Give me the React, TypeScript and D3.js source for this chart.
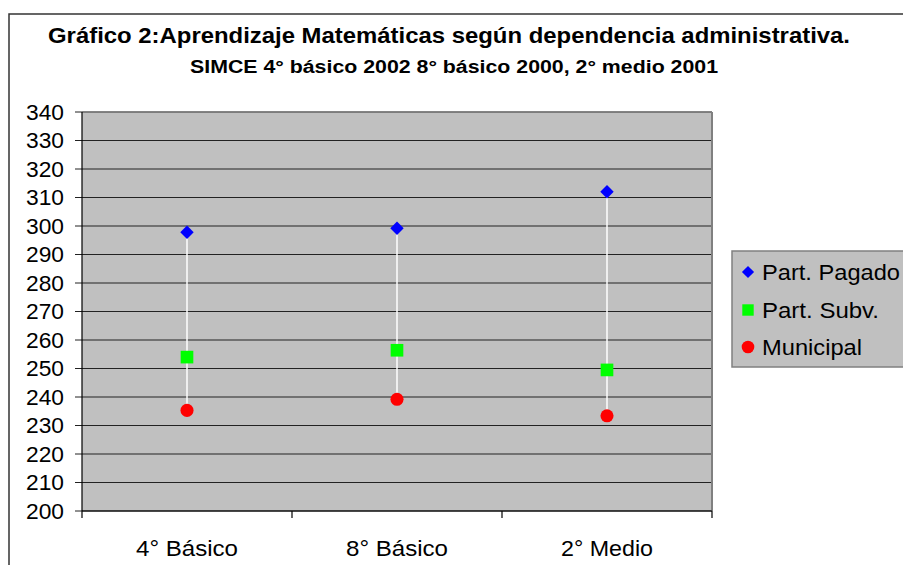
import React from "react";
import * as d3 from "d3";

const categories = ["4° Básico", "8° Básico", "2° Medio"];
const partPagado = [297.8, 299.2, 312];
const partSubv = [254, 256.4, 249.5];
const municipal = [235.3, 239.2, 233.4];
const yTicks = [200, 210, 220, 230, 240, 250, 260, 270, 280, 290, 300, 310, 320, 330, 340];
const seriesNames = ["Part. Pagado", "Part. Subv.", "Municipal"];

const W = 903;
const H = 565;
const plot = { left: 82, top: 112, right: 712, bottom: 511 };
const font = "'Liberation Sans', Arial, sans-serif";
const catWidths = [102, 102, 92];
const legendWidths = [138, 117, 100];

export default function App() {
  const x = d3.scaleBand<string>().domain(categories).range([plot.left, plot.right]);
  const y = d3.scaleLinear().domain([200, 340]).range([plot.bottom, plot.top]);
  const cx = (c: string) => (x(c) as number) + x.bandwidth() / 2;
  const diamond = d3.symbol().type(d3.symbolDiamond2).size(115)() as string;
  const square = d3.symbol().type(d3.symbolSquare).size(160)() as string;
  const circle = d3.symbol().type(d3.symbolCircle).size(135)() as string;
  const legDiamond = d3.symbol().type(d3.symbolDiamond2).size(95)() as string;
  const legSquare = d3.symbol().type(d3.symbolSquare).size(130)() as string;
  const legCircle = d3.symbol().type(d3.symbolCircle).size(125)() as string;
  const bandEdges = categories.map((c) => x(c) as number).concat([plot.right]);

  return (
    <svg width={W} height={H} style={{ position: "fixed", left: 0, top: 0, background: "#fff" }}>
      <rect x={9} y={14} width={W} height={H} fill="#fff" stroke="#333" strokeWidth={1.5} />
      <text x={48} y={43} textLength={802} lengthAdjust="spacingAndGlyphs" fontFamily={font} fontWeight="bold" fontSize={21.5}>
        Gráfico 2:Aprendizaje Matemáticas según dependencia administrativa.
      </text>
      <text x={190} y={73} textLength={528} lengthAdjust="spacingAndGlyphs" fontFamily={font} fontWeight="bold" fontSize={18}>
        SIMCE 4° básico 2002 8° básico 2000, 2° medio 2001
      </text>

      <rect x={plot.left} y={plot.top} width={plot.right - plot.left} height={plot.bottom - plot.top} fill="#C0C0C0" />
      {yTicks.map((t) => (
        <g key={t}>
          <line x1={plot.left - 7} x2={plot.right} y1={y(t)} y2={y(t)} stroke="#222" strokeWidth={1} />
          <text x={64} y={y(t) + 7.5} textAnchor="end" fontFamily={font} fontSize={22} textLength={38} lengthAdjust="spacingAndGlyphs">
            {t}
          </text>
        </g>
      ))}
      <line x1={plot.left} x2={plot.right} y1={plot.top} y2={plot.top} stroke="#808080" strokeWidth={1.5} />
      <line x1={plot.right} x2={plot.right} y1={plot.top} y2={plot.bottom} stroke="#808080" strokeWidth={2} />
      <line x1={plot.left} x2={plot.left} y1={plot.top} y2={plot.bottom} stroke="#000" strokeWidth={1.2} />
      <line x1={plot.left} x2={plot.right} y1={plot.bottom} y2={plot.bottom} stroke="#000" strokeWidth={1.2} />
      {bandEdges.map((e, i) => (
        <line key={i} x1={e} x2={e} y1={plot.bottom} y2={plot.bottom + 7} stroke="#000" strokeWidth={1.2} />
      ))}
      {categories.map((c, i) => (
        <text key={c} x={cx(c) - catWidths[i] / 2} y={556} textLength={catWidths[i]} lengthAdjust="spacingAndGlyphs" fontFamily={font} fontSize={22}>
          {c}
        </text>
      ))}

      {categories.map((c, i) => (
        <line key={c} x1={cx(c)} x2={cx(c)} y1={y(partPagado[i])} y2={y(municipal[i])} stroke="#fff" strokeWidth={1.5} />
      ))}
      {categories.map((c, i) => (
        <g key={c}>
          <path d={diamond} transform={`translate(${cx(c)},${y(partPagado[i])})`} fill="#0000FF" />
          <path d={square} transform={`translate(${cx(c)},${y(partSubv[i])})`} fill="#00FF00" />
          <path d={circle} transform={`translate(${cx(c)},${y(municipal[i])})`} fill="#FF0000" />
        </g>
      ))}

      <rect x={732} y={251} width={200} height={116} fill="#C0C0C0" stroke="#808080" strokeWidth={1.5} />
      <path d={legDiamond} transform="translate(748,272)" fill="#0000FF" />
      <path d={legSquare} transform="translate(748,310)" fill="#00FF00" />
      <path d={legCircle} transform="translate(748,347)" fill="#FF0000" />
      {seriesNames.map((s, i) => (
        <text key={s} x={762} y={280 + i * 37.5} textLength={legendWidths[i]} lengthAdjust="spacingAndGlyphs" fontFamily={font} fontSize={22}>
          {s}
        </text>
      ))}
    </svg>
  );
}
